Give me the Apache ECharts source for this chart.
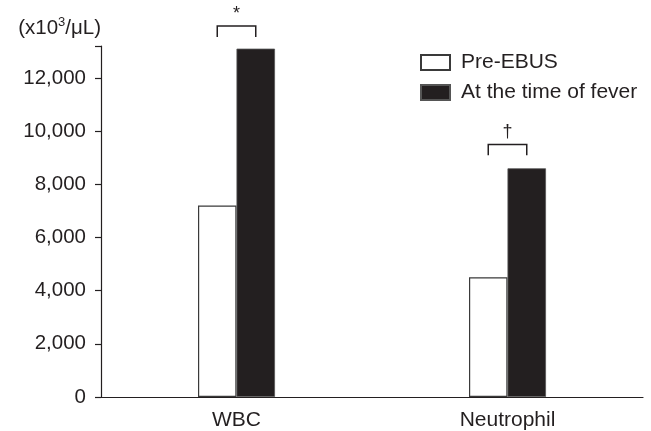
<!DOCTYPE html>
<html>
<head>
<meta charset="utf-8">
<script src="https://cdn.jsdelivr.net/npm/echarts@6/dist/echarts.min.js"></script>
<style>html,body{margin:0;padding:0;background:#fff}#c{width:651px;height:431px}</style>
</head>
<body>
<div id="c"></div>
<script>
var categories = ['WBC', 'Neutrophil'];
var preEbus = [7200, 4500];
var atFever = [13100, 8600];
var seriesNames = ['Pre-EBUS', 'At the time of fever'];
// significance brackets: [categoryIndex, bracketBaseValue, bracketTopValue]
var brackets = [[0, 13540, 13950], [1, 9090, 9500]];
var bracketMarks = ['*', '\u2020'];

var ink = '#231f20';
var barW = 38.5;
var font = 'Liberation Sans, Arial, sans-serif';

var chart = echarts.init(document.getElementById('c'));
chart.setOption({
  animation: false,
  backgroundColor: '#fff',
  grid: { left: 101, right: 8, top: 46, bottom: 33 },
  legend: {
    orient: 'vertical', left: 415, top: 47,
    itemWidth: 29, itemHeight: 15, itemGap: 9,
    icon: 'rect',
    textStyle: { fontFamily: font, fontSize: 21, color: ink, padding: [0, 0, 0, 6] },
    data: seriesNames
  },
  xAxis: {
    type: 'category', data: categories,
    axisLine: { lineStyle: { color: ink, width: 1.2 } },
    axisTick: { length: 8, lineStyle: { color: ink, width: 1.2 } },
    axisLabel: { fontFamily: font, fontSize: 21, color: ink, margin: 13 }
  },
  yAxis: {
    type: 'value', min: 0, max: 13200, interval: 2000,
    name: '{a|(x10}{s|3}{a|/\u03bcL)}',
    nameLocation: 'end', nameGap: 6,
    nameTextStyle: {
      align: 'right', padding: [0, 0, 0, 0],
      rich: {
        a: { fontFamily: font, fontSize: 20.5, color: ink },
        s: { fontFamily: font, fontSize: 13, color: ink, verticalAlign: 'top', padding: [0, 0, 11, 0] }
      }
    },
    splitLine: { show: false },
    axisLine: { show: true, lineStyle: { color: ink, width: 1.2 } },
    axisTick: { show: true, length: 6, lineStyle: { color: ink, width: 1.2 } },
    axisLabel: {
      fontFamily: font, fontSize: 20.5, color: ink, margin: 15,
      formatter: function (v) { return v % 2000 === 0 ? v.toLocaleString('en-US') : ''; }
    }
  },
  series: [
    {
      name: seriesNames[0], type: 'bar', data: preEbus, barWidth: barW, barGap: '0%',
      itemStyle: { color: '#fff', borderColor: '#3a3a3a', borderWidth: 1.2 }
    },
    {
      name: seriesNames[1], type: 'bar', data: atFever, barWidth: barW, barGap: '0%',
      itemStyle: { color: ink, borderColor: '#555', borderWidth: 0.8 }
    },
    {
      type: 'custom', data: brackets, clip: false, silent: true,
      renderItem: function (params, api) {
        var ci = api.value(0);
        var b = api.coord([ci, api.value(1)]);
        var t = api.coord([ci, api.value(2)]);
        var h = barW / 2;
        var cx = b[0];
        return {
          type: 'group',
          children: [
            { type: 'polyline', shape: { points: [[cx - h, b[1]], [cx - h, t[1]], [cx + h, t[1]], [cx + h, b[1]]] },
              style: { stroke: ink, lineWidth: 1.5, fill: null } },
            { type: 'text', x: cx, y: t[1] - 3,
              style: { text: bracketMarks[params.dataIndex], fontFamily: font, fontSize: 18, fill: ink,
                       align: 'center', verticalAlign: 'bottom' } }
          ]
        };
      }
    }
  ]
});
</script>
</body>
</html>
